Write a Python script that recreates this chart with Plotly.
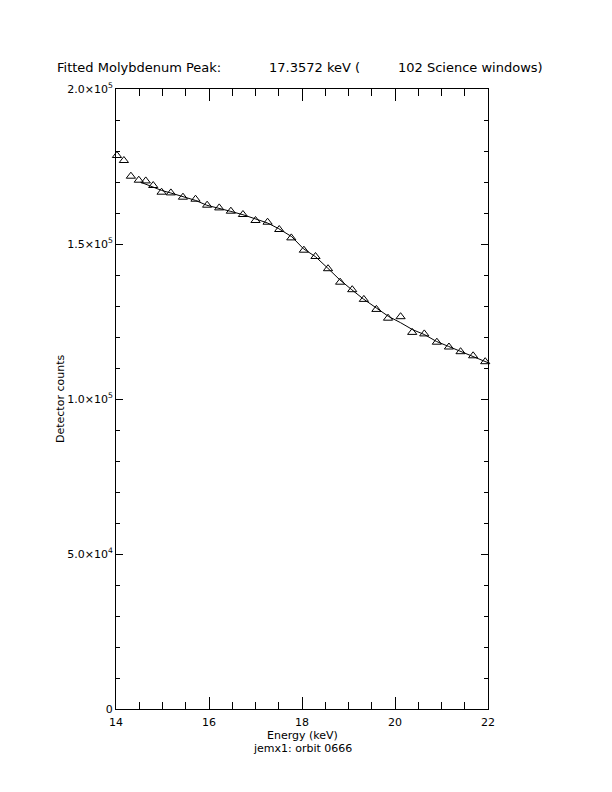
import plotly.graph_objects as go

# measured points (energy in keV, detector counts)
energy = [14.02, 14.17, 14.32, 14.49, 14.64, 14.80, 14.98, 15.18, 15.44, 15.71,
          15.96, 16.22, 16.47, 16.73, 17.00, 17.26, 17.51, 17.77, 18.04, 18.29,
          18.56, 18.82, 19.08, 19.33, 19.60, 19.85, 20.12, 20.37, 20.63, 20.90,
          21.16, 21.41, 21.68, 21.94]
counts = [178550, 176935, 171870, 170580, 170355, 168870, 166710, 166485, 165100, 164450,
          162515, 161645, 160580, 159515, 157580, 157030, 154675, 151970, 148000, 145970,
          142030, 137680, 135260, 132130, 128900, 126065, 126550, 121485, 121000, 118325,
          116775, 115260, 113935, 112035]

# fitted curve
fit_energy = [14.53, 14.79, 14.98, 15.18, 15.44, 15.71, 15.95, 16.21, 16.47, 16.73,
              17.00, 17.26, 17.50, 17.78, 18.03, 18.29, 18.55, 18.81, 19.07, 19.32,
              19.60, 19.86, 20.12, 20.38, 20.64, 20.89, 21.15, 21.41, 21.67, 21.93, 22.00]
fit_counts = [169935, 168390, 167290, 166450, 165160, 164065, 162515, 161613, 160515, 159450,
              158065, 156775, 154935, 152355, 148485, 145905, 142260, 138485, 135260, 132260,
              129355, 126645, 124615, 122355, 120740, 118580, 116970, 115355, 113970, 112130, 111710]

y_tickvals = [0, 50000, 100000, 150000, 200000]
y_ticktext = ["0", "5.0×10<sup>4</sup>", "1.0×10<sup>5</sup>", "1.5×10<sup>5</sup>", "2.0×10<sup>5</sup>"]
x_tickvals = [14, 16, 18, 20, 22]

font = "DejaVu Sans"

fig = go.Figure()
fig.add_trace(go.Scatter(x=energy, y=counts, mode="markers",
                         marker=dict(symbol="triangle-up-open", size=8, color="black",
                                     line=dict(width=1, color="black")),
                         cliponaxis=False, showlegend=False))
fig.add_trace(go.Scatter(x=fit_energy, y=fit_counts, mode="lines",
                         line=dict(color="black", width=1), showlegend=False))

# page body adds an 8px offset, so margins are shifted to compensate
fig.update_layout(
    width=612, height=792,
    margin=dict(l=108, r=132, t=81, b=91),
    paper_bgcolor="white", plot_bgcolor="white",
    font=dict(family=font, color="black", size=11),
    xaxis=dict(range=[14, 22], tickvals=x_tickvals, ticks="inside", ticklen=12,
               tickwidth=1, tickcolor="black", showline=True, linecolor="black",
               linewidth=1, mirror="allticks", showgrid=False, zeroline=False,
               tickfont=dict(size=11), ticklabelstandoff=3,
               minor=dict(dtick=0.5, ticks="inside", ticklen=7, tickcolor="black",
                          tickwidth=1, showgrid=False)),
    yaxis=dict(range=[0, 200000], tickvals=y_tickvals, ticktext=y_ticktext,
               ticks="inside", ticklen=7, tickwidth=1, tickcolor="black",
               showline=True, linecolor="black", linewidth=1, mirror="allticks",
               showgrid=False, zeroline=False, tickfont=dict(size=11),
               minor=dict(dtick=10000, ticks="inside", ticklen=4, tickcolor="black",
                          tickwidth=1, showgrid=False)),
)

annots = [
    dict(text="Fitted Molybdenum Peak:", px=55, py=68, anchor="left", size=13),
    dict(text="17.3572 keV (", px=267, py=68, anchor="left", size=13),
    dict(text="102 Science windows)", px=396, py=68, anchor="left", size=13),
    dict(text="Energy (keV)", px=302, py=735, anchor="center", size=11),
    dict(text="jemx1: orbit 0666", px=302, py=748, anchor="center", size=11),
]
for a in annots:
    fig.add_annotation(text=a["text"], xref="paper", yref="paper",
                       x=(a["px"] - 116) / 372, y=(709 - a["py"]) / 620,
                       xanchor=a["anchor"], yanchor="middle", showarrow=False,
                       font=dict(size=a["size"], family=font, color="black"))
fig.add_annotation(text="Detector counts", xref="paper", yref="paper",
                   x=(60 - 116) / 372, y=0.5, textangle=-90, xanchor="center",
                   yanchor="middle", showarrow=False,
                   font=dict(size=11, family=font, color="black"))

fig.write_html("out.html")
